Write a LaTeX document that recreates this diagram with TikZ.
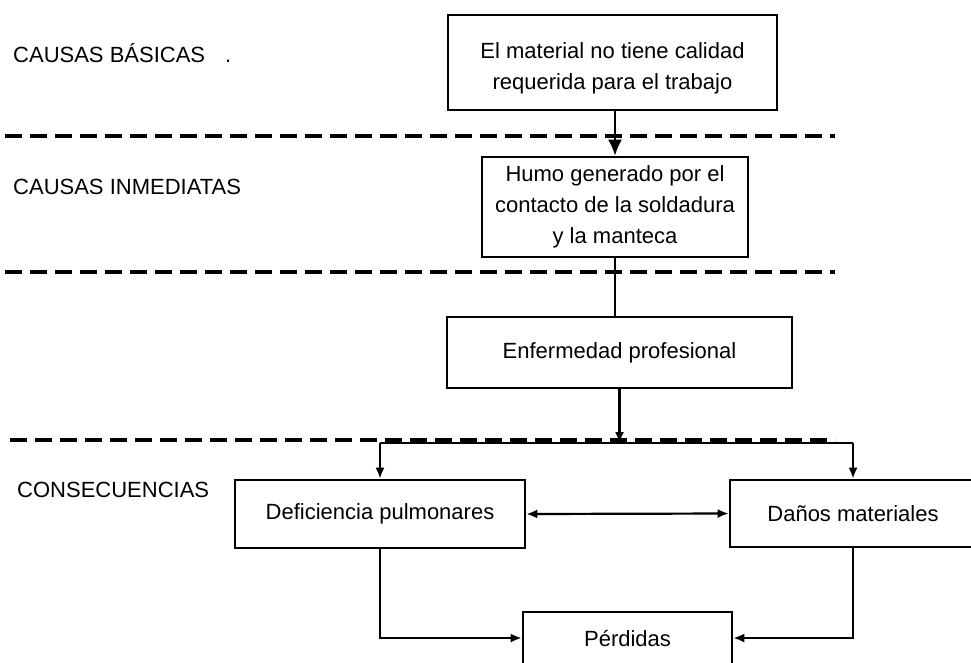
\documentclass[tikz,border=0pt]{standalone}
\usepackage{fontspec}
\setmainfont{Liberation Sans}
\usetikzlibrary{arrows.meta}
\begin{document}
\begin{tikzpicture}[x=1pt,y=-1pt,
  box/.style={draw,line width=2.6pt,inner sep=0pt,align=center,
    font=\fontsize{22}{31}\selectfont},
  lbl/.style={anchor=west,inner sep=0pt,font=\fontsize{22}{26}\selectfont},
  conn/.style={line width=2.2pt},
  arr/.style={conn,-{Latex[length=11pt,width=9pt]}},
  bigarr/.style={conn,-{Latex[length=16pt,width=14pt]}},
  arrtwo/.style={conn,{Latex[length=11pt,width=9pt]}-{Latex[length=11pt,width=9pt]}},
  sep/.style={line width=4.5pt,dash pattern=on 17pt off 8pt}]
\useasboundingbox (0,0) rectangle (971,662);
\clip (0,0) rectangle (971,662);
% separators
\draw[sep] (5,136) -- (835,136);
\draw[sep] (5,272) -- (835,272);
\draw[sep] (10,440) -- (835,440);
% labels
\node[lbl] (l1) at (13,53) {CAUSAS BÁSICAS\hspace{20pt}.};
\node[lbl] (l2) at (13,187) {CAUSAS INMEDIATAS};
\node[lbl] (l3) at (17,490) {CONSECUENCIAS};
% boxes
\node[box,minimum width=329pt,minimum height=95pt] (b1) at (612.5,62.5)
  {\rule{0pt}{27pt}El material no tiene calidad\\requerida para el trabajo};
\node[box,minimum width=266pt,minimum height=100pt] (b2) at (615,207)
  {Humo generado por el\\contacto de la soldadura\\y la manteca};
\node[box,minimum width=345pt,minimum height=71pt] (b3) at (619.5,352.5)
  {Enfermedad profesional};
\node[box,minimum width=290pt,minimum height=68pt] (b4) at (380,514)
  {Deficiencia pulmonares};
\node[box,minimum width=246pt,minimum height=67pt] (b5) at (853,513.5)
  {Daños materiales};
\node[box,minimum width=209pt,minimum height=52pt] (b6) at (627.5,638)
  {Pérdidas};
% connectors
\coordinate (j) at (619,443);
\draw[bigarr] (b1.south -| b2.north) -- (b2.north);
\draw[conn] (b2.south) -- (b3.north -| b2.south);
\draw[arr] (b3.south) -- (b3.south |- j);
\draw[conn] (b4.north |- j) -- (b5.north |- j);
\draw[arr] (b4.north |- j) -- (b4.north);
\draw[arr] (b5.north |- j) -- (b5.north);
\draw[arrtwo] (b4.east) -- (b5.west);
\draw[arr] (b4.south) |- (b6.west);
\draw[arr] (b5.south) |- (b6.east);
\end{tikzpicture}
\end{document}
